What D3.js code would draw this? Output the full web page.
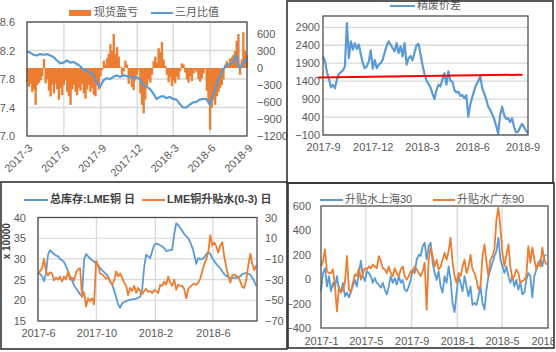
<!DOCTYPE html>
<html>
<head>
<meta charset="utf-8">
<script src="https://cdn.jsdelivr.net/npm/d3@7"></script>
<style>
  body { margin: 0; background: #fff; }
  text { font-family: "Liberation Sans", "Noto Sans CJK SC", sans-serif; fill: #595959; }
</style>
</head>
<body>
<div id="chart"></div>
<script>
// ---- panel 1: 现货盈亏 (bars, right axis) + 三月比值 (line, left axis)
const spotStart = "2017-03-01", spotStepDays = 4.147;
const spotPnl = [
  -250,-330,-280,-420,-380,-650,-300,-260,-220,-150,
  160,-270,-200,-400,-500,-300,-450,-280,-380,-560,
  -350,-480,-300,-220,-420,-500,-650,-380,-300,-420,
  -480,-350,-400,-280,-450,-540,-380,-300,-420,-350,
  -470,-500,-300,-380,-150,-40,130,60,170,250,
  420,300,600,250,370,200,20,-150,-60,130,
  60,-280,-180,-340,-390,-220,-120,-30,-450,-650,
  -800,-560,-320,-200,-260,-120,120,200,100,350,
  280,460,150,40,-120,-250,-160,-320,-220,-270,
  -150,-200,-60,80,60,-80,-200,-260,-150,-230,
  -100,-40,-80,-200,-240,-180,-100,-20,-400,-600,
  -1090,-700,-560,-650,-500,-420,-350,-300,-200,60,
  120,80,160,190,230,300,480,600,-120,150,
  630,300,220
];
const ratioStart = "2017-03-01", ratioStepDays = 8.29;
const marchRatio = [
  8.19,8.17,8.14,8.13,8.15,8.14,8.15,8.13,8.11,8.06,
  8.02,8.03,8.06,8.03,8.04,8.01,7.98,7.93,7.92,7.89,
  7.86,7.75,7.69,7.78,7.81,7.80,7.83,7.85,7.83,7.85,
  7.84,7.83,7.81,7.83,7.79,7.72,7.69,7.66,7.60,7.52,
  7.55,7.56,7.53,7.55,7.52,7.51,7.45,7.40,7.40,7.44,
  7.47,7.48,7.51,7.52,7.52,7.44,7.58,7.72,7.83,7.93,
  7.99,8.01,8.03,8.13,7.95,8.02,8.09
];
const p1Months = ["2017-3","2017-6","2017-9","2017-12","2018-3","2018-6","2018-9"];
const p1LeftTicks = [7.0, 7.4, 7.8, 8.2, 8.6];
const p1RightTicks = [600, 300, 0, -300, -600, -900, -1200];

// ---- panel 2: 精废价差
const scrapStart = "2017-09-01", scrapStepDays = 3.64;
const scrapSpread = [
  2090,1950,1650,1450,1230,1300,1200,1440,1600,1650,
  1700,1810,3020,2040,2510,2280,2460,2300,2420,2150,
  1900,1760,1810,1950,2260,1750,1990,1760,1860,1900,
  2000,2200,2380,2510,2420,2320,2230,2460,2180,2370,
  2090,2460,1860,2040,2100,1980,2200,2400,2440,2150,
  1850,1600,1420,1320,1230,1050,900,1150,1300,1250,
  1450,1620,1300,1670,1400,1390,1160,1080,1110,990,
  1010,930,1010,410,750,950,1150,1300,1400,1550,
  1200,1060,900,690,600,480,350,150,-60,450,
  690,460,350,370,260,370,120,-30,-10,110,
  210,120,20,-40
];
const scrapRefDates = ["2017-08-23", "2018-09-01"];
const scrapRefValues = [1500, 1580];
const p2Months = ["2017-9","2017-12","2018-3","2018-6","2018-9"];
const p2Ticks = [-100, 400, 900, 1400, 1900, 2400, 2900];

// ---- panel 3: 总库存:LME铜 (left, x 10000) + LME铜升贴水(0-3) (right)
const lmeStart = "2017-06-01", lmeStepDays = 4.18;
const lmeStock = [
  26.6,26.4,25.8,24.6,26.5,31.0,32.1,31.6,31.2,30.8,
  30.6,30.0,29.7,29.2,28.2,27.0,25.8,24.8,23.6,22.9,
  22.2,21.4,21.0,29.8,31.2,30.6,30.1,29.7,29.3,28.9,
  28.4,27.8,27.3,26.8,26.3,25.8,24.6,23.9,22.4,20.8,
  19.0,18.2,19.3,19.6,19.8,20.0,20.1,20.2,20.3,20.4,
  20.6,20.9,22.6,28.0,31.0,30.6,30.2,31.8,33.4,33.7,
  33.5,33.3,33.0,32.6,31.9,32.0,32.1,32.2,36.0,38.6,
  38.2,37.5,36.8,36.0,35.5,35.0,34.0,32.8,31.0,28.8,
  30.2,30.0,29.9,30.4,31.2,31.6,31.3,30.2,29.5,28.8,
  28.2,27.7,27.0,26.3,25.9,25.6,25.4,25.4,25.4,25.4,
  25.6,25.8,26.3,26.5,26.6,26.4,26.2,25.4,24.6,23.4
];
const lmeSpread = [
  -25,-22,-19,-10,-22,-26,-23,-24,-31,-28,
  -30,-27,-32,-27,-30,-22,-30,-28,-31,-23,
  -20,-19,-47,-42,-56,-48,-51,-48,-54,-12,
  -16,-24,-25,-27,-29,-28,-32,-35,-31,-22,
  -27,-24,-28,-33,-36,-45,-38,-41,-36,-43,
  -38,-41,-44,-41,-39,-42,-41,-43,-40,-41,
  -43,-35,-36,-32,-35,-27,-33,-36,-30,-40,
  -35,-36,-36,-39,-48,-39,-37,-35,-34,-35,
  -33,-29,-22,-15,-10,-4,13,3,6,2,
  -4,3,6,-8,-18,-27,-33,-26,-25,-27,
  -27,-32,-37,-38,-30,-16,-5,-15,-21,-16
];
const p3Months = ["2017-6","2017-10","2018-2","2018-6"];
const p3LeftTicks = [15, 20, 25, 30, 35, 40];
const p3RightTicks = [30, 10, -10, -30, -50, -70];

// ---- panel 4: 升贴水上海30 / 升贴水广东90
const premStart = "2017-01-01", premStepDays = 5.34;
const premShanghai = [
  -100,50,90,-60,25,-100,-30,-70,25,-85,
  -110,-30,-140,-110,-150,-100,-60,-5,-60,50,
  150,25,-15,65,50,25,-30,10,-30,-45,
  -70,-30,-85,-125,-60,25,-30,10,-45,25,
  -30,-5,-85,-100,-60,-5,80,50,160,200,
  190,270,300,160,270,300,135,50,-5,65,
  -60,-110,25,-30,105,-5,-195,-270,-110,25,
  -30,-100,25,-60,-140,-60,-210,-195,-210,-140,
  -60,-195,-250,-85,25,80,135,190,230,340,
  160,105,50,105,25,-30,25,-60,-5,-85,
  -30,-125,-110,-5,50,25,-150,25,80,135,
  160,105,190,200
];
const premGuangdong = [
  105,150,245,65,50,50,80,-60,-265,-60,
  -110,-85,-30,190,-85,-110,-30,40,25,90,
  -5,50,90,80,105,90,120,105,90,190,
  150,90,80,50,105,50,25,90,50,25,
  80,105,25,-5,25,65,50,105,80,50,
  25,65,135,-250,160,260,190,105,160,80,
  105,160,215,160,230,340,135,25,-30,50,
  25,105,160,50,105,200,80,50,-5,-85,
  -60,190,285,135,25,160,190,245,490,585,
  420,215,105,200,285,100,-5,25,80,50,
  -30,-15,-5,25,270,135,260,160,80,135,
  105,260,160,120
];
const p4Months = ["2017-1","2017-5","2017-9","2018-1","2018-5","2018-9"];
const p4Ticks = [-400, -200, 0, 200, 400, 600];

// ---------------------------------------------------------------
const blue = "#5b9bd5", orange = "#ed7d31", red = "#ff0000",
      grid = "#d9d9d9", frame = "#505050";

const parseDay = d3.timeParse("%Y-%m-%d");
const parseMonth = d3.timeParse("%Y-%m");
const monthFmt = d3.timeFormat("%Y-%-m");
const intFmt = d3.format("d");

function toSeries(start, stepDays, values) {
  let t0 = parseDay(start);
  return values.map((v, i) => ({
    date: d3.timeMinute.offset(t0, Math.round(i * stepDays * 1440)),
    value: v
  }));
}

const svg = d3.select("#chart")
  .append("svg")
  .attr("width", 556)
  .attr("height", 352);

function styleAxis(g, size) {
  g.attr("font-family", null).attr("font-size", size || 10);
  g.select(".domain").remove();
}

function legendLine(g, x, y, color, label, opts = {}) {
  g.append("line")
    .attr("x1", x).attr("x2", x + (opts.len || 23))
    .attr("y1", y).attr("y2", y)
    .attr("stroke", color).attr("stroke-width", 2);
  let t = g.append("text")
    .attr("x", x + (opts.len || 23) + 2).attr("y", y)
    .attr("dominant-baseline", "middle")
    .attr("font-size", 11)
    .text(label);
  if (opts.bold) t.style("font-weight", "bold").style("fill", "#404040");
}

// ================= panel 1 =================
{
  let left = 27, right = 247, top = 22, bottom = 136;
  let spot = toSeries(spotStart, spotStepDays, spotPnl);
  let ratio = toSeries(ratioStart, ratioStepDays, marchRatio);
  let months = p1Months.map(parseMonth);

  let x = d3.scaleTime().domain([months[0], months[months.length - 1]]).range([left, right]);
  let yL = d3.scaleLinear().domain([7.0, 8.6]).range([bottom, top]);
  let yR = d3.scaleLinear().domain([-1200, 600]).range([bottom, 34]);

  let g = svg.append("g");

  g.append("g").selectAll("line").data(p1LeftTicks).join("line")
    .attr("x1", left).attr("x2", right)
    .attr("y1", d => yL(d)).attr("y2", d => yL(d))
    .attr("stroke", grid).attr("stroke-width", 1.3);
  g.append("g").selectAll("line").data(months).join("line")
    .attr("x1", d => x(d)).attr("x2", d => x(d))
    .attr("y1", top).attr("y2", bottom)
    .attr("stroke", grid).attr("stroke-width", 1.3);

  let bw = x(spot[1].date) - x(spot[0].date);
  g.append("g").selectAll("rect").data(spot).join("rect")
    .attr("x", d => x(d.date) - bw / 2)
    .attr("width", bw + 0.7)
    .attr("y", d => Math.min(yR(0), yR(d.value)))
    .attr("height", d => Math.abs(yR(d.value) - yR(0)))
    .attr("fill", orange);

  g.append("path")
    .datum(ratio)
    .attr("fill", "none")
    .attr("stroke", blue)
    .attr("stroke-width", 2.2)
    .attr("stroke-linejoin", "round")
    .attr("d", d3.line().x(d => x(d.date)).y(d => yL(d.value)));

  g.append("rect")
    .attr("x", left).attr("y", top)
    .attr("width", right - left).attr("height", bottom - top)
    .attr("fill", "none").attr("stroke", frame).attr("stroke-width", 1.3);

  g.append("g")
    .attr("transform", `translate(15,0)`)
    .call(d3.axisLeft(yL).tickValues(p1LeftTicks).tickSize(0).tickPadding(0).tickFormat(d3.format(".1f")))
    .call(a => styleAxis(a, 11));
  g.append("g")
    .attr("transform", `translate(257,0)`)
    .call(d3.axisRight(yR).tickValues(p1RightTicks).tickSize(0).tickPadding(0).tickFormat(intFmt))
    .call(a => styleAxis(a, 11));
  g.append("g")
    .attr("transform", `translate(0,${bottom})`)
    .call(d3.axisBottom(x).tickValues(months).tickSize(0).tickFormat(monthFmt))
    .call(a => styleAxis(a, 11))
    .selectAll("text")
    .attr("x", 0).attr("y", 0).attr("dy", "0.35em")
    .attr("text-anchor", "end")
    .attr("transform", "translate(3,10) rotate(-45)");

  g.append("rect").attr("x", 69).attr("y", 10).attr("width", 22).attr("height", 6).attr("fill", orange);
  g.append("text").attr("x", 94).attr("y", 13).attr("dominant-baseline", "middle")
    .attr("font-size", 11).text("现货盈亏");
  legendLine(g, 151, 13, blue, "三月比值", { len: 22 });
}

// ================= panel 2 =================
{
  let left = 323, right = 528, top = 16, bottom = 135;
  let spread = toSeries(scrapStart, scrapStepDays, scrapSpread);
  let months = p2Months.map(parseMonth);

  let x = d3.scaleTime().domain(d3.extent(spread, d => d.date)).range([left, right]);
  let y = d3.scaleLinear().domain([-100, 2900]).range([bottom, 27.3]);

  let g = svg.append("g");

  g.append("g").selectAll("line").data(p2Ticks).join("line")
    .attr("x1", left).attr("x2", right)
    .attr("y1", d => y(d)).attr("y2", d => y(d))
    .attr("stroke", grid).attr("stroke-width", 1.3);

  g.append("path")
    .datum(spread)
    .attr("fill", "none")
    .attr("stroke", blue)
    .attr("stroke-width", 2.2)
    .attr("stroke-linejoin", "round")
    .attr("d", d3.line().x(d => x(d.date)).y(d => y(d.value)));

  let ref = scrapRefDates.map((d, i) => ({ date: parseDay(d), value: scrapRefValues[i] }));
  g.append("path")
    .datum(ref)
    .attr("fill", "none")
    .attr("stroke", red)
    .attr("stroke-width", 2)
    .attr("d", d3.line().x(d => x(d.date)).y(d => y(d.value)));

  g.append("rect")
    .attr("x", left).attr("y", top)
    .attr("width", right - left).attr("height", bottom - top)
    .attr("fill", "none").attr("stroke", frame).attr("stroke-width", 1.3);

  g.append("g")
    .attr("transform", `translate(320,0)`)
    .call(d3.axisLeft(y).tickValues(p2Ticks).tickSize(0).tickPadding(0).tickFormat(intFmt))
    .call(a => styleAxis(a, 11));
  g.append("g")
    .attr("transform", `translate(0,${bottom})`)
    .call(d3.axisBottom(x).tickValues(months).tickSize(0).tickPadding(8).tickFormat(monthFmt))
    .call(a => styleAxis(a, 11));

  legendLine(g, 390, 6, blue, "精废价差", { len: 25 });
}

// ================= panel 3 =================
{
  let left = 38, right = 257, top = 217.5, bottom = 321;
  let stock = toSeries(lmeStart, lmeStepDays, lmeStock);
  let spread = toSeries(lmeStart, lmeStepDays, lmeSpread);
  let months = p3Months.map(parseMonth);

  let x = d3.scaleTime().domain([months[0], parseDay("2018-09-01")]).range([left, right]);
  let yL = d3.scaleLinear().domain([15, 40]).range([bottom, top]);
  let yR = d3.scaleLinear().domain([-70, 30]).range([bottom, top]);

  let g = svg.append("g");

  g.append("g").selectAll("line").data(p3LeftTicks).join("line")
    .attr("x1", left).attr("x2", right)
    .attr("y1", d => yL(d)).attr("y2", d => yL(d))
    .attr("stroke", grid).attr("stroke-width", 1.1);
  g.append("g").selectAll("line").data(months).join("line")
    .attr("x1", d => x(d)).attr("x2", d => x(d))
    .attr("y1", top).attr("y2", bottom)
    .attr("stroke", grid).attr("stroke-width", 1.3);

  g.append("path")
    .datum(stock)
    .attr("fill", "none")
    .attr("stroke", blue)
    .attr("stroke-width", 1.8)
    .attr("stroke-linejoin", "round")
    .attr("d", d3.line().x(d => x(d.date)).y(d => yL(d.value)));
  g.append("path")
    .datum(spread)
    .attr("fill", "none")
    .attr("stroke", orange)
    .attr("stroke-width", 1.8)
    .attr("stroke-linejoin", "round")
    .attr("d", d3.line().x(d => x(d.date)).y(d => yR(d.value)));

  g.append("rect")
    .attr("x", left).attr("y", top)
    .attr("width", right - left).attr("height", bottom - top)
    .attr("fill", "none").attr("stroke", frame).attr("stroke-width", 1.3);

  g.append("g")
    .attr("transform", `translate(26,0)`)
    .call(d3.axisLeft(yL).tickValues(p3LeftTicks).tickSize(0).tickPadding(0).tickFormat(intFmt))
    .call(a => styleAxis(a, 11));
  g.append("g")
    .attr("transform", `translate(265,0)`)
    .call(d3.axisRight(yR).tickValues(p3RightTicks).tickSize(0).tickPadding(0).tickFormat(intFmt))
    .call(a => styleAxis(a, 11));
  g.append("g")
    .attr("transform", `translate(0,${bottom})`)
    .call(d3.axisBottom(x).tickValues(months).tickSize(0).tickPadding(8).tickFormat(monthFmt))
    .call(a => styleAxis(a, 11));

  g.append("text")
    .attr("transform", `translate(7,${(top + bottom) / 2 - 28}) rotate(-90)`)
    .attr("text-anchor", "middle")
    .attr("dominant-baseline", "middle")
    .attr("font-size", 10)
    .style("font-weight", "bold")
    .style("fill", "#404040")
    .text("x 10000");

  legendLine(g, 24, 200, blue, "总库存:LME铜 日", { len: 24, bold: true });
  legendLine(g, 142, 200, orange, "LME铜升贴水(0-3) 日", { len: 23, bold: true });
}

// ================= panel 4 =================
{
  let left = 321, right = 548, top = 206, bottom = 328;
  let sh = toSeries(premStart, premStepDays, premShanghai);
  let gd = toSeries(premStart, premStepDays, premGuangdong);
  let months = p4Months.map(parseMonth);

  let x = d3.scaleTime().domain([months[0], months[months.length - 1]]).range([left, right]);
  let y = d3.scaleLinear().domain([-400, 600]).range([bottom, top]);

  svg.append("clipPath").attr("id", "clip4")
    .append("rect").attr("x", 288).attr("y", 183).attr("width", 265).attr("height", 165);

  let g = svg.append("g").attr("clip-path", "url(#clip4)");

  g.append("g").selectAll("line").data(months.slice(1, -1)).join("line")
    .attr("x1", d => x(d)).attr("x2", d => x(d))
    .attr("y1", top).attr("y2", bottom)
    .attr("stroke", grid).attr("stroke-width", 1.3);

  let line = d3.line().x(d => x(d.date)).y(d => y(d.value));
  g.append("path")
    .datum(sh)
    .attr("fill", "none")
    .attr("stroke", blue)
    .attr("stroke-width", 1.8)
    .attr("stroke-linejoin", "round")
    .attr("d", line);
  g.append("path")
    .datum(gd)
    .attr("fill", "none")
    .attr("stroke", orange)
    .attr("stroke-width", 1.8)
    .attr("stroke-linejoin", "round")
    .attr("d", line);

  g.append("rect")
    .attr("x", left).attr("y", top)
    .attr("width", right - left).attr("height", bottom - top)
    .attr("fill", "none").attr("stroke", frame).attr("stroke-width", 1.3);

  g.append("g")
    .attr("transform", `translate(311,0)`)
    .call(d3.axisLeft(y).tickValues(p4Ticks).tickSize(0).tickPadding(0).tickFormat(intFmt))
    .call(a => styleAxis(a, 11));
  g.append("g")
    .attr("transform", `translate(0,${bottom})`)
    .call(d3.axisBottom(x).tickValues(months).tickSize(0).tickPadding(9).tickFormat(monthFmt))
    .call(a => styleAxis(a, 11));

  legendLine(g, 320, 200, blue, "升贴水上海30", { len: 23 });
  legendLine(g, 433, 200, orange, "升贴水广东90", { len: 22 });
}

// ================= panel frames =================
const frames = [
  { x: 287, y: 1, w: 266, h: 182 },
  { x: 1, y: 182, w: 286, h: 167 },
  { x: 288, y: 183, w: 266, h: 165 }
];
svg.append("g").selectAll("rect").data(frames).join("rect")
  .attr("x", d => d.x).attr("y", d => d.y)
  .attr("width", d => d.w).attr("height", d => d.h)
  .attr("fill", "none")
  .attr("stroke", "#333")
  .attr("stroke-width", 1.6);
</script>
</body>
</html>
